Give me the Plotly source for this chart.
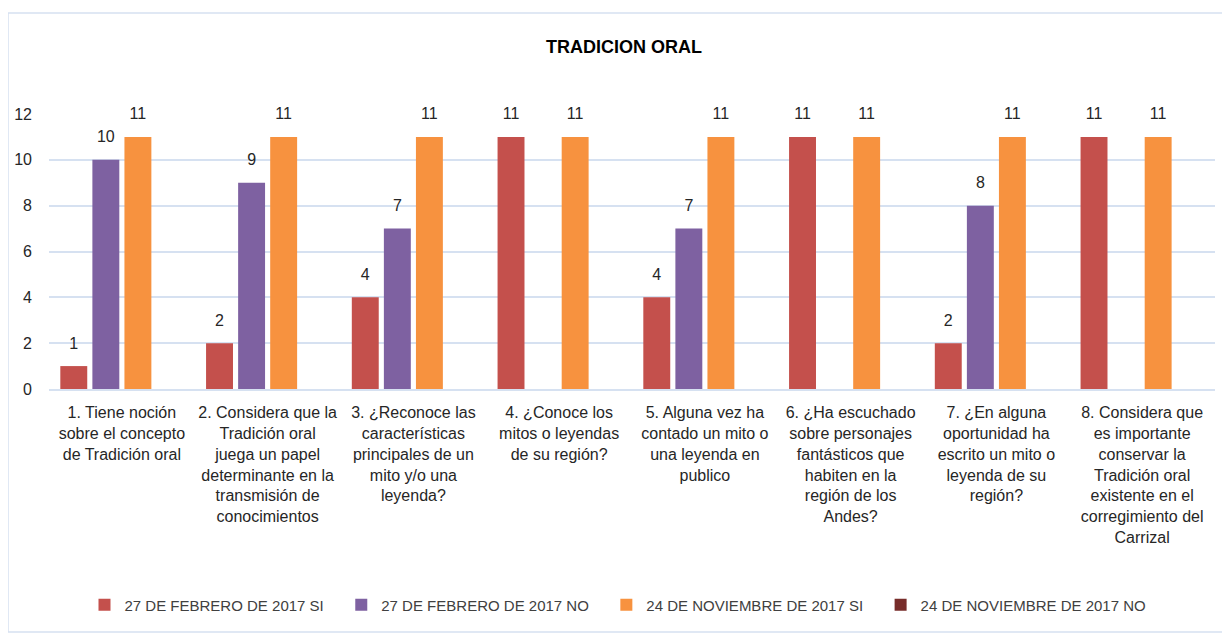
import plotly.graph_objects as go

categories = [
    "1. Tiene noción<br>sobre el concepto<br>de Tradición oral",
    "2. Considera que la<br>Tradición oral<br>juega un papel<br>determinante en la<br>transmisión de<br>conocimientos",
    "3. ¿Reconoce las<br>características<br>principales de un<br>mito y/o una<br>leyenda?",
    "4. ¿Conoce los<br>mitos o leyendas<br>de su región?",
    "5. Alguna vez ha<br>contado un mito o<br>una leyenda en<br>publico",
    "6. ¿Ha escuchado<br>sobre personajes<br>fantásticos que<br>habiten en la<br>región de los<br>Andes?",
    "7. ¿En alguna<br>oportunidad ha<br>escrito un mito o<br>leyenda de su<br>región?",
    "8. Considera que<br>es importante<br>conservar la<br>Tradición oral<br>existente en el<br>corregimiento del<br>Carrizal",
]
series_names = [
    "27 DE FEBRERO DE 2017 SI",
    "27 DE FEBRERO DE 2017 NO",
    "24 DE NOVIEMBRE DE 2017 SI",
    "24 DE NOVIEMBRE DE 2017 NO",
]
feb_si = [1, 2, 4, 11, 4, 11, 2, 11]
feb_no = [10, 9, 7, None, 7, None, 8, None]
nov_si = [11, 11, 11, 11, 11, 11, 11, 11]
nov_no = [None, None, None, None, None, None, None, None]
colors = ["#C4504C", "#7E61A1", "#F7923F", "#772C2A"]
y_ticks = [0, 2, 4, 6, 8, 10, 12]

FONT = "Liberation Sans"
W, H = 1222, 625  # page body has 8px margin
fig = go.Figure()
all_series = [feb_si, feb_no, nov_si, nov_no]
for i, (name, vals, col) in enumerate(zip(series_names, all_series, colors)):
    fig.add_trace(go.Bar(
        x=categories, y=vals, name=name + "&nbsp;&nbsp;&nbsp;",
        alignmentgroup="bars", offsetgroup="b" + str(i),
        marker=dict(color=col, line=dict(width=0)),
        hoverinfo="x+y+name",
    ))
for i, vals in enumerate(all_series):
    fig.add_trace(go.Scatter(
        x=categories, y=vals, mode="markers+text",
        alignmentgroup="labels", offsetgroup="s" + str(i),
        text=[("" if v is None else str(v)) for v in vals],
        textposition="top center", cliponaxis=False,
        marker=dict(size=20, color="rgba(0,0,0,0)"),
        textfont=dict(family=FONT, size=16, color="#262626"),
        showlegend=False, hoverinfo="skip",
    ))

fig.update_layout(
    width=W, height=H,
    paper_bgcolor="white", plot_bgcolor="white",
    margin=dict(l=41, r=15, t=106, b=244, autoexpand=False),
    barmode="group", bargap=0.12, bargroupgap=0.16,
    scattermode="group", scattergap=0.12,
    title=dict(text="<b>TRADICION ORAL</b>", xref="container", x=616 / W, xanchor="center",
               y=1 - 39 / H, yanchor="middle",
               font=dict(family=FONT, size=18, color="#000000")),
    font=dict(family=FONT, size=15, color="#404040"),
    showlegend=True,
    legend=dict(orientation="h", x=0.5 - 8 / 1166, xanchor="center", y=(381 - 597) / 275, yanchor="middle",
                font=dict(family=FONT, size=15, color="#404040"),
                itemwidth=30, traceorder="normal"),
)
fig.update_yaxes(range=[0, 12], tickvals=y_ticks, showgrid=True, automargin=False,
                 gridcolor="#D6E1F1", gridwidth=2, zeroline=False,
                 showline=False, ticks="", ticklen=0, ticklabelstandoff=16,
                 tickfont=dict(family=FONT, size=16, color="#262626"))
fig.update_xaxes(range=[-0.5, len(categories) - 0.5], autorange=False, automargin=False,
                 showline=True, linecolor="#D6E1F1", linewidth=2,
                 ticks="", tickangle=0, ticklabelstandoff=8,
                 tickfont=dict(family=FONT, size=16, color="#262626"))
fig.add_shape(type="rect", xref="paper", yref="paper",
              x0=(0 - 41) / 1166, x1=(1219 - 41) / 1166,
              y0=(381 - 624) / 275, y1=(381 - 5) / 275,
              line=dict(color="#D6E1F1", width=1.5), fillcolor="rgba(0,0,0,0)", layer="below")

fig.write_html("out.html")
